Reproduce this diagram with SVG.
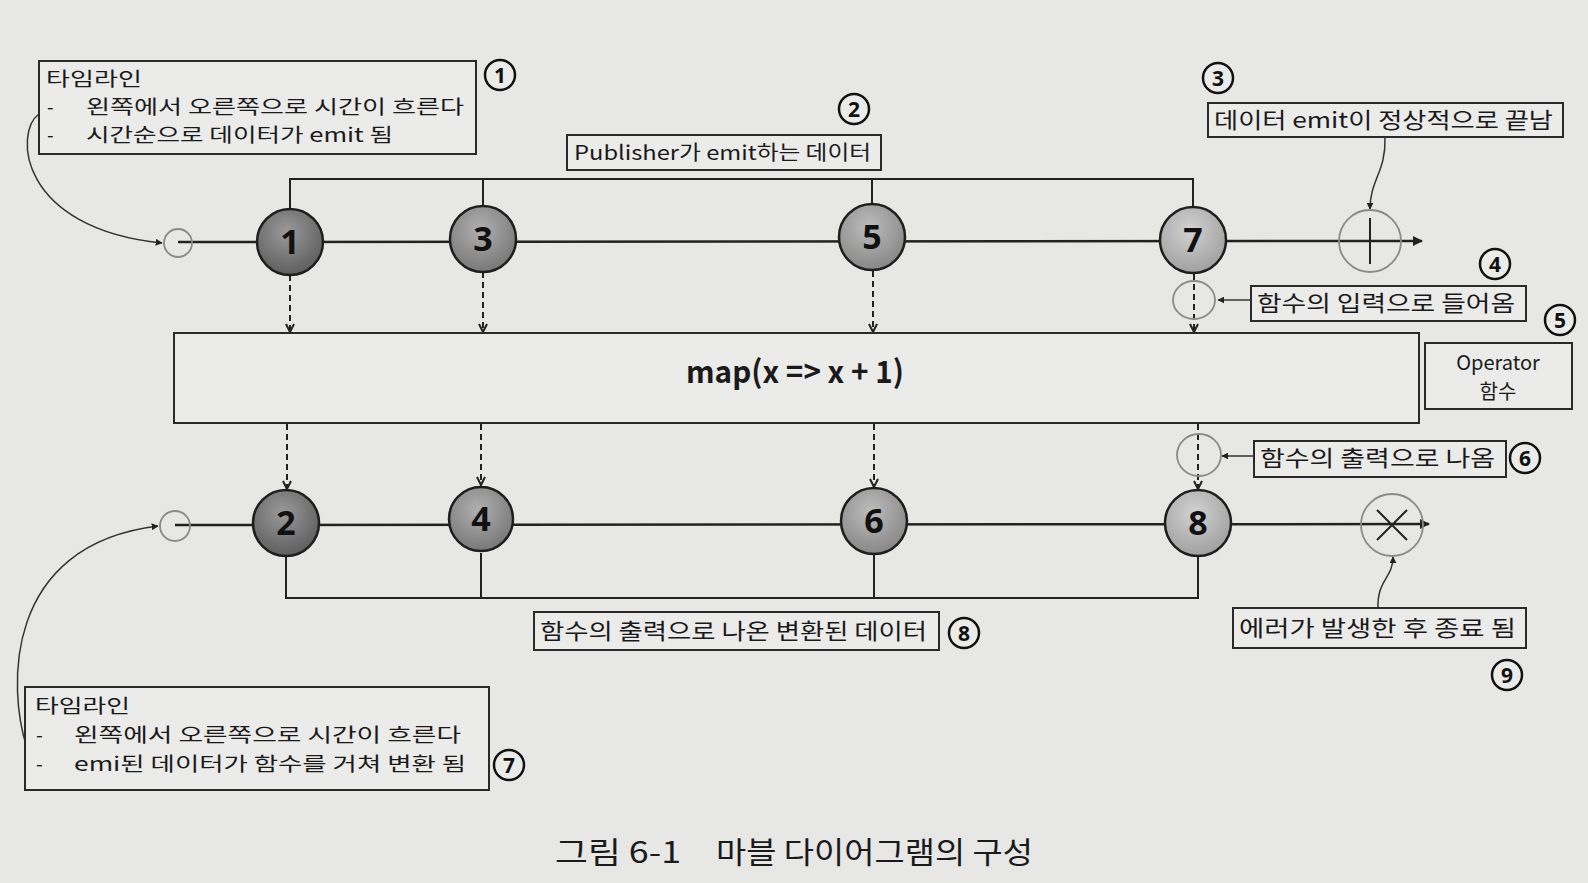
<svg xmlns="http://www.w3.org/2000/svg" width="1588" height="883" viewBox="0 0 1588 883">
<defs>
<style>
.bg{fill:#e7e7e5}
.box{fill:#ebebe9;stroke:#2a2a2a;stroke-width:2}
.t{font-family:"Noto Sans CJK KR","Noto Sans",sans-serif;fill:#1a1a1a}
.lbl{font-size:22px}
.nl{font-size:19px}
.line{stroke:#222;stroke-width:2.5;fill:none}
.br{stroke:#222;stroke-width:2;fill:none}
.dash{stroke:#222;stroke-width:2;stroke-dasharray:6 4;fill:none}
.thin{stroke:#333;stroke-width:1.5;fill:none}
.gray{stroke:#8a8a8a;stroke-width:1.8;fill:none}
.node{stroke:#1e1e1e;stroke-width:2.5}
.num{font-family:"Noto Sans","DejaVu Sans",sans-serif;font-weight:bold;font-size:34px;fill:#111;text-anchor:middle}
.cn circle{fill:#ebebe9;stroke:#111;stroke-width:2.5}
.cn text{font-family:"Noto Sans","DejaVu Sans",sans-serif;font-weight:bold;font-size:21px;fill:#111;text-anchor:middle}
</style>
<radialGradient id="gD" cx="45%" cy="35%" r="65%"><stop offset="0" stop-color="#9a9a9a"/><stop offset="1" stop-color="#5e5e5e"/></radialGradient>
<radialGradient id="gM" cx="45%" cy="35%" r="65%"><stop offset="0" stop-color="#b0b0b0"/><stop offset="1" stop-color="#787878"/></radialGradient>
<radialGradient id="gL" cx="45%" cy="35%" r="65%"><stop offset="0" stop-color="#bdbdbd"/><stop offset="1" stop-color="#878787"/></radialGradient>
<radialGradient id="gX" cx="45%" cy="35%" r="65%"><stop offset="0" stop-color="#d2d2d2"/><stop offset="1" stop-color="#a0a0a0"/></radialGradient>
<marker id="tri" viewBox="0 0 10 10" refX="9" refY="5" markerWidth="7" markerHeight="7" orient="auto" markerUnits="userSpaceOnUse"><path d="M0,0 L10,5 L0,10 z" fill="#222"/></marker>
<marker id="triBig" viewBox="0 0 10 10" refX="9" refY="5" markerWidth="12" markerHeight="10" orient="auto" markerUnits="userSpaceOnUse"><path d="M0,0 L10,5 L0,10 z" fill="#222"/></marker>
<marker id="vee" viewBox="0 0 10 10" refX="9" refY="5" markerWidth="10" markerHeight="10" orient="auto" markerUnits="userSpaceOnUse"><path d="M1,1 L9,5 L1,9" fill="none" stroke="#222" stroke-width="2"/></marker>
</defs>
<rect class="bg" x="0" y="0" width="1588" height="883"/>

<g id="connectors">
  <line class="line" x1="178" y1="242" x2="1422" y2="241" marker-end="url(#triBig)"/>
  <line class="line" x1="175" y1="525" x2="1429" y2="524" marker-end="url(#triBig)"/>
  <path class="br" d="M290 208 V179 H1193 V208 M483 208 V179 M872 208 V179"/>
  <path class="br" d="M286 557 V598 H1198 V557 M481 553 V598 M874 555 V598"/>
  <line class="dash" x1="290" y1="275" x2="290" y2="332" marker-end="url(#vee)"/>
  <line class="dash" x1="483" y1="272" x2="483" y2="332" marker-end="url(#vee)"/>
  <line class="dash" x1="873" y1="271" x2="873" y2="332" marker-end="url(#vee)"/>
  <line class="dash" x1="1194" y1="274" x2="1194" y2="332" marker-end="url(#vee)"/>
  <line class="dash" x1="287" y1="424" x2="287" y2="489" marker-end="url(#vee)"/>
  <line class="dash" x1="481" y1="424" x2="481" y2="485" marker-end="url(#vee)"/>
  <line class="dash" x1="874" y1="424" x2="874" y2="487" marker-end="url(#vee)"/>
  <line class="dash" x1="1198" y1="424" x2="1198" y2="489" marker-end="url(#vee)"/>
  <path class="thin" d="M39 114 C14 132, 18 228, 162 243" marker-end="url(#tri)"/>
  <path class="thin" d="M27 748 C8 690, 2 545, 158 526" marker-end="url(#tri)"/>
  <path class="thin" d="M1385 138 C1386 172, 1370 180, 1370 209" marker-end="url(#tri)"/>
  <path class="thin" d="M1378 608 C1377 580, 1393 578, 1393 557" marker-end="url(#tri)"/>
  <line class="thin" x1="1251" y1="300" x2="1218" y2="300" marker-end="url(#tri)"/>
  <line class="thin" x1="1254" y1="456" x2="1222" y2="456" marker-end="url(#tri)"/>
</g>

<g id="start-top"><circle class="gray" cx="178" cy="243" r="14"/></g>
<g id="start-bottom"><circle class="gray" cx="175" cy="526" r="15"/></g>

<g id="node1"><circle class="node" cx="290" cy="242" r="33" fill="url(#gD)"/><text class="num" x="290" y="254">1</text></g>
<g id="node3"><circle class="node" cx="483" cy="239" r="33" fill="url(#gM)"/><text class="num" x="483" y="251">3</text></g>
<g id="node5"><circle class="node" cx="872" cy="237" r="33" fill="url(#gL)"/><text class="num" x="872" y="249">5</text></g>
<g id="node7"><circle class="node" cx="1193" cy="240" r="33" fill="url(#gX)"/><text class="num" x="1193" y="252">7</text></g>

<g id="node2"><circle class="node" cx="286" cy="523" r="33" fill="url(#gD)"/><text class="num" x="286" y="535">2</text></g>
<g id="node4"><circle class="node" cx="481" cy="519" r="32" fill="url(#gM)"/><text class="num" x="481" y="531">4</text></g>
<g id="node6"><circle class="node" cx="874" cy="521" r="33" fill="url(#gL)"/><text class="num" x="874" y="533">6</text></g>
<g id="node8"><circle class="node" cx="1198" cy="523" r="33" fill="url(#gX)"/><text class="num" x="1198" y="535">8</text></g>

<g id="complete"><circle class="gray" cx="1370" cy="241" r="31"/><line x1="1370" y1="218" x2="1370" y2="264" stroke="#222" stroke-width="2"/></g>
<g id="error"><circle class="gray" cx="1392" cy="525" r="31"/><path d="M1377 510 L1407 540 M1407 510 L1377 540" stroke="#222" stroke-width="2"/></g>

<g id="input-marker"><ellipse class="gray" cx="1194" cy="300" rx="21" ry="19"/></g>
<g id="output-marker"><ellipse class="gray" cx="1199" cy="455" rx="22" ry="21"/></g>

<g id="operator">
  <rect class="box" x="174" y="333" width="1245" height="90" stroke-width="2.5"/>
  <text class="t" x="686" y="383" font-size="31" font-weight="bold" textLength="218" lengthAdjust="spacingAndGlyphs" font-family="Noto Sans, sans-serif">map(x =&gt; x + 1)</text>
</g>

<g id="note1">
  <rect class="box" x="39" y="61" width="437" height="93"/>
  <text class="t nl" x="46" y="86" textLength="96" lengthAdjust="spacingAndGlyphs">타임라인</text>
  <text class="t nl" x="47" y="114">-</text>
  <text class="t nl" x="86" y="114" textLength="378" lengthAdjust="spacingAndGlyphs">왼쪽에서 오른쪽으로 시간이 흐른다</text>
  <text class="t nl" x="47" y="142">-</text>
  <text class="t nl" x="86" y="142" textLength="307" lengthAdjust="spacingAndGlyphs">시간순으로 데이터가 emit 됨</text>
</g>
<g id="note2">
  <rect class="box" x="567" y="135" width="314" height="35"/>
  <text class="t" x="574" y="160" font-size="20" textLength="297" lengthAdjust="spacingAndGlyphs">Publisher가 emit하는 데이터</text>
</g>
<g id="note3">
  <rect class="box" x="1208" y="103" width="355" height="34"/>
  <text class="t lbl" x="1214" y="128" textLength="339" lengthAdjust="spacingAndGlyphs">데이터 emit이 정상적으로 끝남</text>
</g>
<g id="note4">
  <rect class="box" x="1251" y="286" width="275" height="35"/>
  <text class="t lbl" x="1257" y="311" textLength="258" lengthAdjust="spacingAndGlyphs">함수의 입력으로 들어옴</text>
</g>
<g id="note5">
  <rect class="box" x="1425" y="343" width="147" height="66"/>
  <text class="t" x="1498" y="370" font-size="20" text-anchor="middle">Operator</text>
  <text class="t" x="1498" y="399" font-size="20" text-anchor="middle">함수</text>
</g>
<g id="note6">
  <rect class="box" x="1254" y="441" width="252" height="36"/>
  <text class="t lbl" x="1260" y="466" textLength="235" lengthAdjust="spacingAndGlyphs">함수의 출력으로 나옴</text>
</g>
<g id="note8">
  <rect class="box" x="534" y="612" width="405" height="38"/>
  <text class="t lbl" x="540" y="639" textLength="387" lengthAdjust="spacingAndGlyphs">함수의 출력으로 나온 변환된 데이터</text>
</g>
<g id="note9">
  <rect class="box" x="1233" y="608" width="293" height="40"/>
  <text class="t lbl" x="1239" y="636" textLength="277" lengthAdjust="spacingAndGlyphs">에러가 발생한 후 종료 됨</text>
</g>
<g id="note7">
  <rect class="box" x="25" y="687" width="464" height="103"/>
  <text class="t" font-size="19.5" x="35" y="713" textLength="95" lengthAdjust="spacingAndGlyphs">타임라인</text>
  <text class="t" font-size="19.5" x="36" y="742">-</text>
  <text class="t" font-size="19.5" x="74" y="742" textLength="387" lengthAdjust="spacingAndGlyphs">왼쪽에서 오른쪽으로 시간이 흐른다</text>
  <text class="t" font-size="19.5" x="36" y="771">-</text>
  <text class="t" font-size="19.5" x="74" y="771" textLength="392" lengthAdjust="spacingAndGlyphs">emi된 데이터가 함수를 거쳐 변환 됨</text>
</g>

<g id="markers" class="cn">
  <g><circle cx="500" cy="75" r="15"/><text x="500" y="83">1</text></g>
  <g><circle cx="854" cy="109" r="15"/><text x="854" y="117">2</text></g>
  <g><circle cx="1218" cy="78" r="15"/><text x="1218" y="86">3</text></g>
  <g><circle cx="1495" cy="264" r="15"/><text x="1495" y="272">4</text></g>
  <g><circle cx="1560" cy="320" r="15"/><text x="1560" y="328">5</text></g>
  <g><circle cx="1525" cy="458" r="15"/><text x="1525" y="466">6</text></g>
  <g><circle cx="509" cy="765" r="15"/><text x="509" y="773">7</text></g>
  <g><circle cx="964" cy="633" r="15"/><text x="964" y="641">8</text></g>
  <g><circle cx="1507" cy="675" r="15"/><text x="1507" y="683">9</text></g>
</g>

<g id="caption">
  <text class="t" x="555" y="863" font-size="30" textLength="126" lengthAdjust="spacingAndGlyphs">그림 6-1</text>
  <text class="t" x="716" y="863" font-size="30" textLength="317" lengthAdjust="spacingAndGlyphs">마블 다이어그램의 구성</text>
</g>
</svg>
